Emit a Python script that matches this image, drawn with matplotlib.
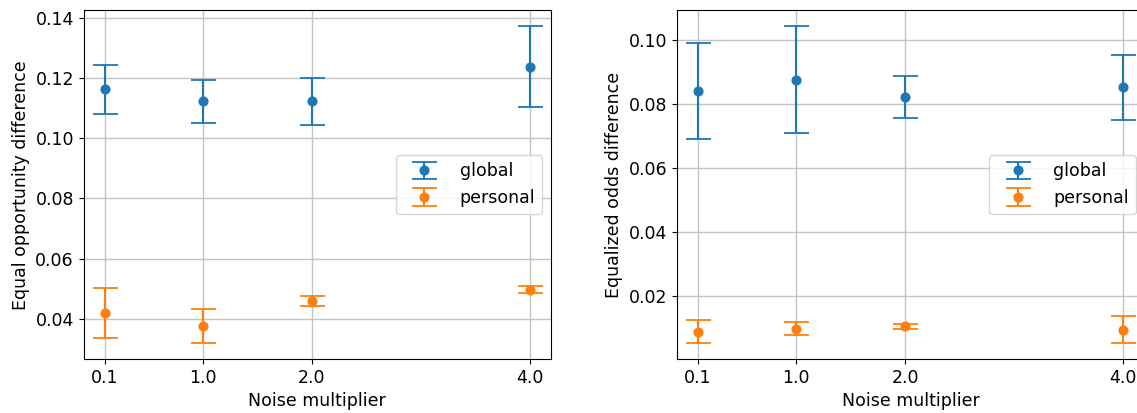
import matplotlib
matplotlib.use("Agg")
import matplotlib.pyplot as plt

noise = [0.1, 1.0, 2.0, 4.0]
tick_labels = ["0.1", "1.0", "2.0", "4.0"]

# equal opportunity difference
eo_global = [0.1162, 0.1122, 0.1122, 0.1238]
eo_global_err = [0.0082, 0.0070, 0.0078, 0.0134]
eo_personal = [0.0419, 0.0376, 0.0459, 0.0496]
eo_personal_err = [0.0082, 0.0057, 0.0017, 0.0012]

# equalized odds difference
odds_global = [0.0843, 0.0877, 0.0823, 0.0853]
odds_global_err = [0.0150, 0.0167, 0.0066, 0.0102]
odds_personal = [0.0090, 0.0099, 0.0107, 0.0096]
odds_personal_err = [0.0036, 0.0020, 0.0008, 0.0042]

plt.rcParams['font.size'] = 12.5

fig = plt.figure(figsize=(11.37, 4.13), dpi=100)
ax1 = fig.add_axes([0.0736, 0.1308, 0.411, 0.844])
ax2 = fig.add_axes([0.5952, 0.1308, 0.4114, 0.844])

err_style = dict(fmt='o', capsize=9, elinewidth=1.5, capthick=1.3, markersize=6.3)


def draw(ax, g, g_err, p, p_err, ylabel):
    ax.errorbar(noise, g, yerr=g_err, label='global', color='#1f77b4', **err_style)
    ax.errorbar(noise, p, yerr=p_err, label='personal', color='#ff7f0e', **err_style)
    ax.set_xticks(noise)
    ax.set_xticklabels(tick_labels)
    ax.grid(True, color='#c4c4c4', linewidth=1.0)
    ax.set_axisbelow(True)
    ax.set_xlabel('Noise multiplier')
    ax.set_ylabel(ylabel)
    ax.legend(loc='center right', handlelength=2.5)


draw(ax1, eo_global, eo_global_err, eo_personal, eo_personal_err,
     'Equal opportunity difference')
draw(ax2, odds_global, odds_global_err, odds_personal, odds_personal_err,
     'Equalized odds difference')

fig.savefig('out.png', dpi=100)
